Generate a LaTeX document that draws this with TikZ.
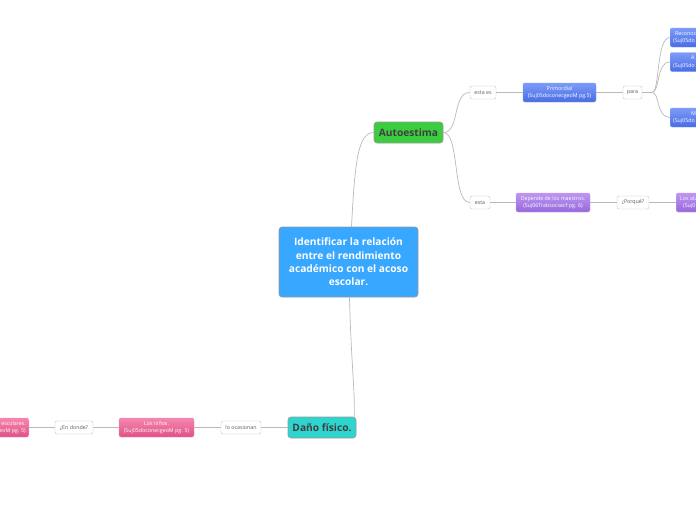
\documentclass[tikz,border=0pt]{standalone}
\usepackage{fontspec}
\setmainfont{Open Sans}
\definecolor{cline}{RGB}{185,185,185}
\definecolor{lblborder}{RGB}{195,195,195}
\definecolor{lbltext}{RGB}{90,90,90}
\definecolor{cblue}{RGB}{55,167,255}
\definecolor{cgreen}{RGB}{60,204,64}
\definecolor{cteal}{RGB}{46,212,206}
\definecolor{bluetop}{RGB}{125,155,248}
\definecolor{bluebot}{RGB}{72,108,228}
\definecolor{purtop}{RGB}{190,150,240}
\definecolor{purbot}{RGB}{150,105,220}
\definecolor{pinktop}{RGB}{245,135,175}
\definecolor{pinkbot}{RGB}{225,80,135}
\begin{document}
\begin{tikzpicture}[x=1pt,y=-1pt,
  conn/.style={draw=cline,line width=0.7pt},
  lbl/.style={draw=lblborder,fill=white,rounded corners=2pt,text=lbltext,
     font=\fontsize{5.3}{6}\selectfont,minimum height=13pt,inner xsep=2pt,inner ysep=0pt},
  topic/.style={rounded corners=2pt,text=white,font=\fontsize{5.3}{7}\selectfont,
     align=center,minimum height=19pt,inner sep=1pt},
  small/.style={text=white,font=\fontsize{5.3}{7}\selectfont,inner sep=0pt},
  bluebox/.style={topic,top color=bluetop,bottom color=bluebot,draw=bluetop},
  purbox/.style={topic,top color=purtop,bottom color=purbot,draw=purtop},
  pinkbox/.style={topic,top color=pinktop,bottom color=pinkbot,draw=pinktop},
  main/.style={rounded corners=3pt,draw=gray!80,line width=0.6pt,font=\bfseries}]
\useasboundingbox (0,0) rectangle (696,520);
\clip (0,0) rectangle (696,520);

% main nodes
\node[main,fill=cblue,text=white,minimum width=139pt,minimum height=70pt,align=center,
  font=\bfseries\fontsize{10.2}{13.4}\selectfont] (c) at (348.5,262)
  {Identificar la relación\\entre el rendimiento\\académico con el acoso\\escolar.};
\node[main,fill=cgreen,text=darkgray,minimum width=69pt,minimum height=21pt,inner sep=0pt,
  font=\bfseries\fontsize{10.2}{11}\selectfont] (auto) at (408.5,132.5) {Autoestima};
\node[main,fill=cteal,text=darkgray,minimum width=68pt,minimum height=21pt,inner sep=0pt,
  font=\bfseries\fontsize{10.2}{11}\selectfont] (dano) at (322,427.5) {Daño físico.};

% upper branch
\node[lbl,minimum width=26pt] (estaes) at (483,92.5) {esta es};
\node[bluebox,minimum width=73pt] (prim) at (559.5,92.5) {Primordial\\(Suj05doconecgeoM pg.5)};
\node[lbl,minimum width=19pt] (para) at (632.5,92.5) {para};
\coordinate (pj) at (652,92.5);

\node[bluebox,minimum width=90pt,anchor=west] (r1) at (670,37.5) {};
\node[bluebox,minimum width=90pt,anchor=west] (r2) at (670,62) {};
\node[bluebox,minimum width=90pt,anchor=west] (r3) at (670,117.5) {};
\node[small,anchor=west] (r1a) at (675,33.5) {Reconoc};
\node[small,anchor=west] (r1b) at (673,41.5) {(Suj05do};
\node[small,anchor=west] (r2a) at (691,58) {A};
\node[small,anchor=west] (r2b) at (673,66) {(Suj05do};
\node[small,anchor=west] (r3a) at (691,113.5) {M};
\node[small,anchor=west] (r3b) at (673,121.5) {(Suj05do};

% lower-right branch
\node[lbl,minimum width=20pt] (esta) at (480,202.5) {esta};
\node[purbox,minimum width=74pt] (dep) at (553,202.5) {Depende de los maestros.\\(Suj06Trabsocsecf pg. 6)};
\node[lbl,minimum width=32pt] (porq) at (633,202.5) {¿Porqué?};
\node[purbox,minimum width=90pt,anchor=west] (alu) at (676,202.5) {};
\node[small,anchor=west] (alua) at (680,198.5) {Los alu};
\node[small,anchor=west] (alub) at (683,206.5) {(Suj0};

% bottom branch
\node[lbl,minimum width=40pt] (ocas) at (241,427.5) {lo ocasionan};
\node[pinkbox,minimum width=75pt] (ninos) at (156.5,427.5) {Los niños.\\(Suj05doconecgeoM pg. 5)};
\node[lbl,minimum width=38pt] (donde) at (74,427.5) {¿En donde?};
\node[pinkbox,minimum width=90pt,anchor=east] (esc) at (29,427.5) {};
\node[small,anchor=east,align=right] (esct) at (26,427.5) {escolares.\\eoM pg. 5)};

% connectors
\draw[conn] (c.north) ++(3,0) .. controls (355,160) and (358,133) .. (auto.west);
\draw[conn] (c.south) ++(1,0) .. controls (351,360) and (355,390) .. ([xshift=-2pt]dano.north east);
\draw[conn] (auto.east) .. controls (460,132.5) and (452,92.5) .. (estaes.west);
\draw[conn] (auto.east) .. controls (460,132.5) and (452,202.5) .. (esta.west);
\draw[conn] (estaes) -- (prim);
\draw[conn] (prim) -- (para);
\draw[conn] (para) -- (pj);
\draw[conn] (pj) .. controls (660,92.5) and (656,37.5) .. (r1.west);
\draw[conn] (pj) .. controls (660,92.5) and (656,62) .. (r2.west);
\draw[conn] (pj) .. controls (660,92.5) and (656,117.5) .. (r3.west);
\draw[conn] (esta) -- (dep);
\draw[conn] (dep) -- (porq);
\draw[conn] (porq) -- (alu);
\draw[conn] (dano) -- (ocas);
\draw[conn] (ocas) -- (ninos);
\draw[conn] (ninos) -- (donde);
\draw[conn] (donde) -- (esc);
\end{tikzpicture}
\end{document}
